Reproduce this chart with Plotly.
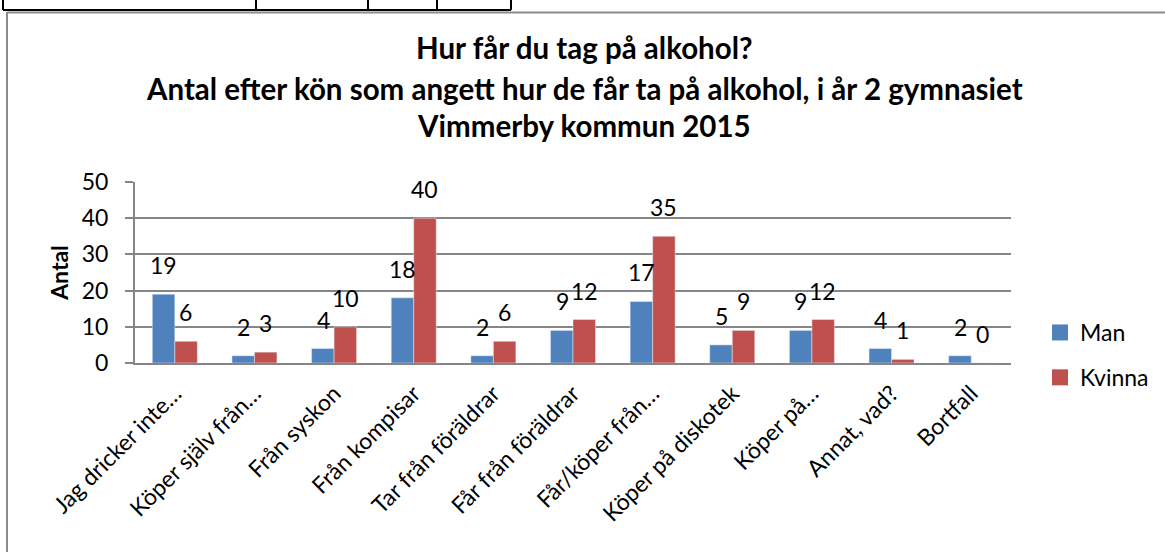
import plotly.graph_objects as go

categories = ["Jag dricker inte…", "Köper själv från…", "Från syskon", "Från kompisar",
              "Tar från föräldrar", "Får från föräldrar", "Får/köper från…",
              "Köper på diskotek", "Köper på…", "Annat, vad?", "Bortfall"]
man = [19, 2, 4, 18, 2, 9, 17, 5, 9, 4, 2]
kvinna = [6, 3, 10, 40, 6, 12, 35, 9, 12, 1, 0]
y_ticks = [0, 10, 20, 30, 40, 50]
title_lines = ["Hur får du tag på alkohol?",
               "Antal efter kön som angett hur de får ta på alkohol, i år 2 gymnasiet",
               "Vimmerby kommun 2015"]

W, H = 1165, 552
L, R, T, B = 135, 1011, 182, 363
FONT = "Lato"
BLUE = "#4F81BD"
RED = "#C0504D"
GRID = "#868686"
FS = 23


def px(xp):
    return (xp - L) / (R - L)


def py(yp):
    return (B - yp) / (B - T)


fig = go.Figure()
fig.add_trace(go.Bar(name="Man", x=categories, y=man, marker_color=BLUE,
                     showlegend=False))
fig.add_trace(go.Bar(name="Kvinna", x=categories, y=kvinna, marker_color=RED,
                     showlegend=False))
# legend entries with larger square swatches
fig.add_trace(go.Scatter(name="Man", x=[None], y=[None], mode="markers",
                         marker=dict(symbol="square", size=16, color=BLUE),
                         legendgroup="a", showlegend=True, hoverinfo="skip"))
fig.add_trace(go.Scatter(name="Kvinna", x=[None], y=[None], mode="markers",
                         marker=dict(symbol="square", size=16, color=RED),
                         legendgroup="b", showlegend=True, hoverinfo="skip"))

annotations = []
for c, v in zip(categories, man):
    annotations.append(dict(x=c, y=v, xref="x", yref="y", text=str(v), showarrow=False,
                            xshift=-11, yshift=29, yanchor="middle",
                            font=dict(family=FONT, size=FS, color="black")))
for c, v in zip(categories, kvinna):
    annotations.append(dict(x=c, y=v, xref="x", yref="y", text=str(v), showarrow=False,
                            xshift=11, yshift=29, yanchor="middle",
                            font=dict(family=FONT, size=FS, color="black")))
for txt, yc in zip(title_lines, [47, 88, 125]):
    annotations.append(dict(x=px(584), y=py(yc), xref="paper", yref="paper", text="<b>" + txt + "</b>",
                            showarrow=False, xanchor="center", yanchor="middle",
                            font=dict(family=FONT, size=29.5, color="black")))

shapes = []
# table fragment at top
shapes.append(dict(type="line", xref="paper", yref="paper", x0=px(3), x1=px(511), y0=py(10), y1=py(10),
                   line=dict(color="black", width=2)))
for xv in [3, 256, 368, 437, 511]:
    shapes.append(dict(type="line", xref="paper", yref="paper", x0=px(xv), x1=px(xv), y0=py(-2), y1=py(10),
                       line=dict(color="black", width=2)))
# chart border
shapes.append(dict(type="line", xref="paper", yref="paper", x0=px(7), x1=px(1170), y0=py(12.5), y1=py(12.5),
                   line=dict(color="#8C8C8C", width=2)))
shapes.append(dict(type="line", xref="paper", yref="paper", x0=px(7), x1=px(7), y0=py(12), y1=py(560),
                   line=dict(color="#8C8C8C", width=2)))

fig.update_layout(
    width=W, height=H,
    margin=dict(l=L, r=W - R, t=T, b=H - B, autoexpand=False),
    paper_bgcolor="white", plot_bgcolor="white",
    barmode="group", bargap=0.435, bargroupgap=0,
    showlegend=True,
    legend=dict(x=px(1040), y=py(311), xanchor="left", yanchor="top",
                font=dict(family=FONT, size=FS, color="black"),
                traceorder="grouped", tracegroupgap=12, bgcolor="rgba(0,0,0,0)",
                itemsizing="trace"),
    annotations=annotations,
    shapes=shapes,
    font=dict(family=FONT, color="black"),
)
fig.update_yaxes(range=[0, 50], tickvals=y_ticks, showgrid=True, gridcolor=GRID, gridwidth=2,
                 showline=True, linecolor=GRID, linewidth=2, ticks="outside", ticklen=8,
                 tickcolor=GRID, tickwidth=2, zeroline=False,
                 tickfont=dict(family=FONT, size=FS, color="black"), ticklabelstandoff=12,
                 title=dict(text="<b>Antal</b>", font=dict(family=FONT, size=FS, color="black"),
                            standoff=7),
                 automargin=False)
fig.update_xaxes(showline=True, linecolor=GRID, linewidth=2, ticks="", tickangle=-45,
                 tickfont=dict(family=FONT, size=FS, color="black"), ticklabelstandoff=6,
                 automargin=False)

fig.write_html("out.html", config={"displayModeBar": False},
               post_script="document.body.style.margin='0';document.body.style.overflow='hidden';")
